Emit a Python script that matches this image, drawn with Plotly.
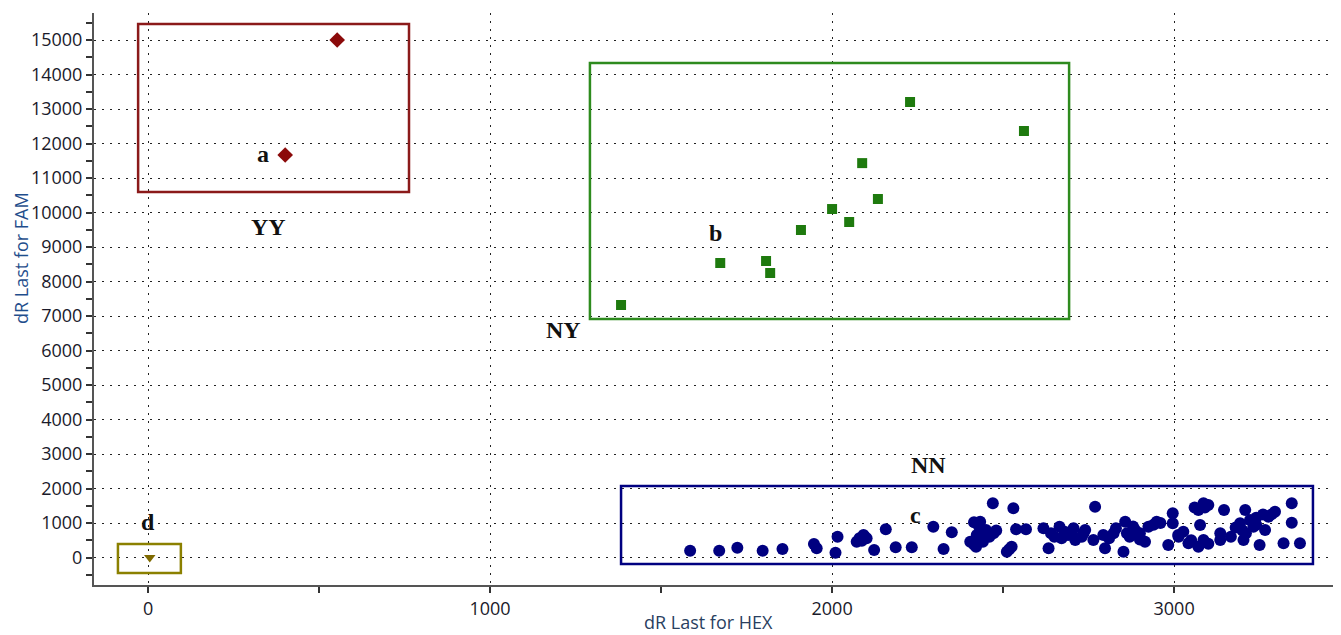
import plotly.graph_objects as go

# ---------------- data ----------------
yy_x = [553, 401]
yy_y = [15000, 11667]

ny_x = [1383, 1673, 1807, 1819, 1909, 2000, 2050, 2088, 2134, 2228, 2561]
ny_y = [7319, 8536, 8594, 8246, 9493, 10101, 9725, 11432, 10391, 13203, 12362]

nn_x = [1585, 1670, 1723, 1797, 1855, 1947, 1955, 2016, 2010, 2072, 2092, 2101, 2087,
        2123, 2157, 2186, 2233, 2296, 2326, 2350, 2415, 2433, 2423, 2450, 2472, 2421,
        2441, 2404, 2470, 2511, 2525, 2518, 2530, 2538, 2567, 2618, 2633, 2665, 2671,
        2706, 2711, 2735, 2764, 2769, 2793, 2798, 2823, 2857, 2852, 2862, 2886, 2915,
        2925, 2949, 2983, 2996, 2996, 3012, 3027, 3013, 3042, 3071, 3086, 3076, 3086,
        3100, 3071, 3135, 3135, 3166, 3146, 3193, 3208, 3203, 3222, 3232, 3266, 3276,
        3295, 3250, 3320, 3344, 3344, 3368,
        2640, 2680, 2690, 2650, 2730, 2740, 2700, 2810, 2830, 2870, 2880, 2900, 2940,
        2960, 2900, 3060, 3090, 3180, 3200, 3210, 3240, 3260, 3285, 3240, 3100, 3050,
        2080, 2095, 2430, 2460, 2440, 2480, 2415]
nn_y = [197, 197, 284, 197, 246, 391, 267, 603, 139, 458, 652, 556, 487,
        217, 817, 296, 296, 893, 246, 730, 1020, 1038, 652, 797, 701, 313,
        458, 458, 1571, 168, 313, 240, 1426, 817, 817, 846, 267, 893, 556,
        846, 507, 701, 507, 1472, 652, 267, 701, 1038, 168, 701, 797, 458,
        893, 1038, 362, 1281, 991, 652, 748, 603, 411, 313, 507, 942, 1571,
        1522, 1377, 701, 507, 603, 1377, 991, 1377, 507, 1087, 893, 797, 1183,
        1328, 362, 411, 1571, 1009, 411,
        700, 750, 650, 600, 600, 800, 700, 560, 850, 600, 900, 700, 950,
        1000, 520, 1450, 1450, 870, 780, 700, 1150, 1250, 1250, 950, 400, 500,
        560, 600, 900, 600, 550, 780, 380]

d_x = [5]
d_y = [0]

# group boxes: [x0, x1, y0, y1]
box_yy = [-29, 763, 10594, 15464]
box_ny = [1292, 2693, 6913, 14333]
box_nn = [1383, 3406, -188, 2072]
box_d = [-88, 96, -449, 391]

label_text = ["a", "YY", "b", "NY", "NN", "c", "d"]
label_x = [336, 351, 1658, 1216, 2281, 2243, 0]
label_y = [11696, 9580, 9406, 6594, 2681, 1232, 1030]

x_range = [-158, 3488]
y_range = [-797, 15783]

# ---------------- figure ----------------
fig = go.Figure()

fig.add_trace(go.Scatter(x=yy_x, y=yy_y, mode="markers",
                         marker=dict(symbol="diamond", size=12, color="#8B0A0A")))
fig.add_trace(go.Scatter(x=ny_x, y=ny_y, mode="markers",
                         marker=dict(symbol="square", size=10, color="#1E7A0E")))
fig.add_trace(go.Scatter(x=nn_x, y=nn_y, mode="markers",
                         marker=dict(symbol="circle", size=12, color="#000080",
                                     line=dict(width=0))))
fig.add_trace(go.Scatter(x=d_x, y=d_y, mode="markers",
                         marker=dict(symbol="triangle-down", size=10, color="#7F6A00")))

for b, col in [(box_yy, "#8B1A1A"), (box_ny, "#2E8B1E"), (box_nn, "#000080"), (box_d, "#8B8000")]:
    fig.add_shape(type="rect", xref="x", yref="y", x0=b[0], x1=b[1], y0=b[2], y1=b[3],
                  line=dict(color=col, width=2.5), fillcolor="rgba(0,0,0,0)", layer="above")

for t, lx, ly in zip(label_text, label_x, label_y):
    fig.add_annotation(x=lx, y=ly, xref="x", yref="y", text="<b>%s</b>" % t, showarrow=False,
                       xanchor="center", yanchor="middle",
                       font=dict(family="Liberation Serif", size=24, color="#111111"))

fig.add_annotation(text="dR Last for FAM", xref="paper", yref="paper",
                   x=(21 - 94) / 1247, y=(585 - 258) / 572, textangle=-90, showarrow=False,
                   xanchor="center", yanchor="middle", borderpad=0,
                   font=dict(family="Open Sans", size=18, color="#1F4E8C"))
fig.add_annotation(text="dR Last for HEX", xref="paper", yref="paper",
                   x=(708 - 94) / 1247, y=(585 - 622) / 572, showarrow=False,
                   xanchor="center", yanchor="middle", borderpad=0,
                   font=dict(family="Open Sans", size=18, color="#2A3F5F"))

grid = dict(showgrid=True, gridcolor="#222222", gridwidth=1.2, griddash="1.5px,6.5px",
            zeroline=False, showline=True, linecolor="#555555", linewidth=2,
            ticks="outside", ticklen=6, tickcolor="#333333", tickwidth=1.5,
            automargin=False, tickformat="d",
            tickfont=dict(family="Open Sans", size=18, color="#1a1a2a"))

fig.update_xaxes(range=x_range, dtick=1000, tick0=0,
                 minor=dict(dtick=500, tick0=0, ticks="outside", ticklen=6,
                            tickcolor="#333333", showgrid=False),
                 **grid)
fig.update_yaxes(range=y_range, dtick=1000, tick0=0,
                 minor=dict(dtick=500, tick0=0, ticks="outside", ticklen=6,
                            tickcolor="#333333", showgrid=False),
                 **grid)

fig.update_layout(width=1333, height=627, showlegend=False,
                  margin=dict(l=86, r=0, t=5, b=50),
                  paper_bgcolor="white", plot_bgcolor="white")

fig.write_html("out.html")
